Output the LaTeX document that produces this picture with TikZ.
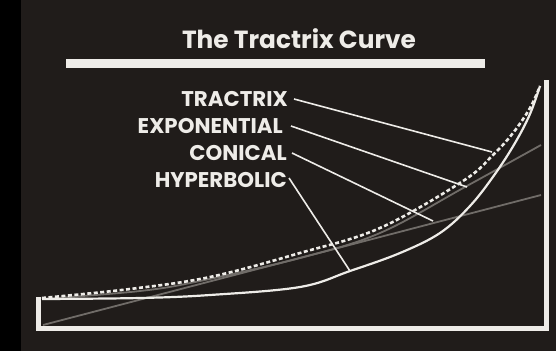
\documentclass[tikz,border=0pt]{standalone}
\usepackage{fontspec}
\setmainfont{Poppins}
\definecolor{bgc}{RGB}{32,28,26}
\definecolor{wline}{RGB}{238,236,232}
\definecolor{gline}{RGB}{112,108,104}
\tikzset{
  lbl/.style={anchor=east, text=wline, font=\fontsize{21.3}{21.3}\selectfont\bfseries, inner sep=0pt},
  leader/.style={draw=wline, line width=1.6pt},
  frameline/.style={draw=wline, line width=5pt},
}
\begin{document}
\begin{tikzpicture}[x=1pt,y=-1pt]
\useasboundingbox (0,0) rectangle (556,351);
\fill[bgc] (0,0) rectangle (556,351);
\fill[black] (0,0) rectangle (21,351);
% title
\node[anchor=base, text=wline, font=\fontsize{24.8}{24.8}\selectfont\bfseries, inner sep=0pt] (title) at (299,48) {The Tractrix Curve};
\fill[wline] (66,59) rectangle (485,68);
% frame
\draw[frameline, line join=miter] (38.5,297) -- (38.5,328.5) -- (546,328.5) -- (546,80);
% conical (straight)
\coordinate (c0) at (43,325);
\coordinate (c1) at (541,195);
\draw[gline, line width=1.8pt] (c0) -- (c1);
% exponential (grey curve)
\draw[gline, line width=1.8pt] plot[smooth, tension=0.6] coordinates {(42,299) (140,291) (200,281) (300,258) (380,233) (465,187) (541,145)};
% tractrix (dashed)
\draw[wline, line width=2.6pt, dash pattern=on 4pt off 2.5pt] plot[smooth, tension=0.6] coordinates {(42,298) (130,289) (210,277) (300,253) (380,228) (463,181) (493,155) (513,133) (530,108) (540,86)};
% hyperbolic (solid)
\draw[wline, line width=2.2pt] plot[smooth, tension=0.6] coordinates {(42,299) (140,298) (210,295) (300,287) (350,271) (400,253) (440,233) (470,206) (495,174) (515,143) (530,114) (540,86)};
% leader targets
\coordinate (tT) at (492,152);
\coordinate (tE) at (467,187);
\coordinate (tC) at (433,221);
\coordinate (tH) at (350,271);
% labels
\node[lbl] (lT) at (288,99) {TRACTRIX};
\node[lbl] (lE) at (283,126) {EXPONENTIAL};
\node[lbl] (lC) at (287,153) {CONICAL};
\node[lbl] (lH) at (287,180) {HYPERBOLIC};
\draw[leader] ([xshift=6pt]lT.east) -- (tT);
\draw[leader] ([xshift=8pt]lE.east) -- (tE);
\draw[leader] ([xshift=5pt]lC.east) -- (tC);
\draw[leader] ([xshift=2pt,yshift=2pt]lH.east) -- (tH);
\end{tikzpicture}
\end{document}
